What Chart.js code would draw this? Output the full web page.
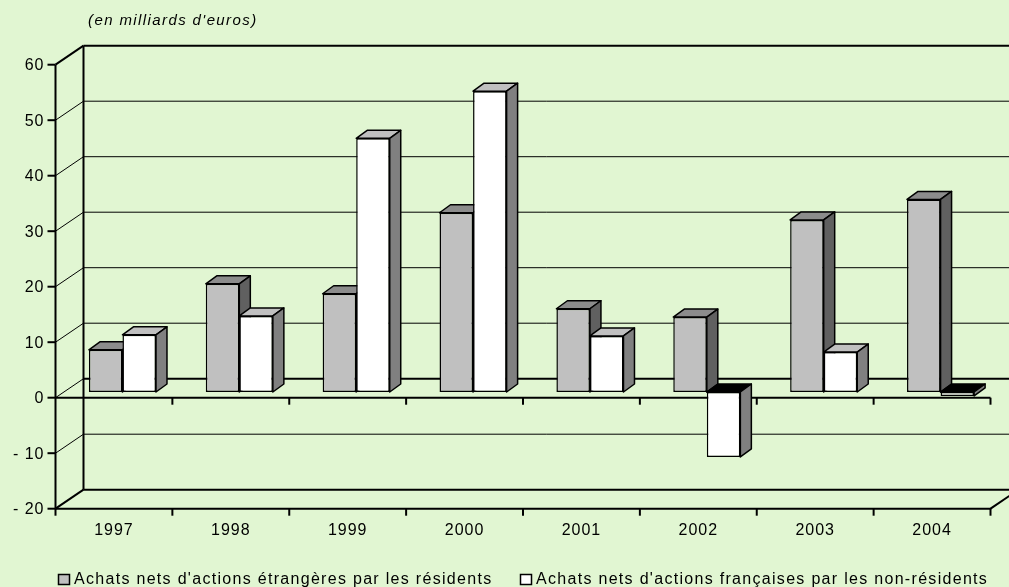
<!DOCTYPE html>
<html lang="fr">

<head>
  <meta charset="UTF-8">
  <title>Achats nets d'actions</title>
  <script src="https://cdn.jsdelivr.net/npm/chart.js"></script>
  <style>
    body {
      margin: 0;
      background: #E1F6D2;
      overflow: hidden;
    }
  </style>
</head>

<body>
  <canvas id="grafico" width="1009" height="587"></canvas>

  <script>
    // donnees (en milliards d'euros)
    const annees = ['1997', '1998', '1999', '2000', '2001', '2002', '2003', '2004']
    const achatsResidents = [7.6, 19.5, 17.7, 32.3, 15.0, 13.5, 31.0, 34.7]
    const achatsNonResidents = [10.3, 13.7, 45.7, 54.2, 10.1, -11.7, 7.2, -0.7]
    const ticksY = [60, 50, 40, 30, 20, 10, 0, -10, -20]
    const nomsSeries = [
      "Achats nets d'actions étrangères par les résidents",
      "Achats nets d'actions françaises par les non-résidents"
    ]

    const couleursFace = ['#C0C0C0', '#FFFFFF']
    const couleursDessus = ['#8C8C8C', '#C0C0C0']
    const couleursCote = ['#606060', '#808080']

    // decalages de profondeur par rapport au plan des barres
    const AVANT = [-8.5, 5.7]
    const FOND = [19.5, -13.3]
    const PROF = [11, -8]
    const POLICE = '"Liberation Sans", Arial, sans-serif'

    function ligne(ctx, pts, lw) {
      ctx.beginPath()
      ctx.moveTo(pts[0][0], pts[0][1])
      for (let k = 1; k < pts.length; k++) ctx.lineTo(pts[k][0], pts[k][1])
      ctx.lineWidth = lw
      ctx.strokeStyle = '#000'
      ctx.stroke()
    }

    function poly(ctx, pts, fond) {
      ctx.beginPath()
      ctx.moveTo(pts[0][0], pts[0][1])
      for (let k = 1; k < pts.length; k++) ctx.lineTo(pts[k][0], pts[k][1])
      ctx.closePath()
      ctx.fillStyle = fond
      ctx.fill()
      ctx.lineWidth = 1.5
      ctx.strokeStyle = '#000'
      ctx.lineJoin = 'round'
      ctx.stroke()
    }

    const effet3d = {
      id: 'effet3d',
      beforeDraw(chart) {
        const ctx = chart.ctx
        ctx.save()
        ctx.fillStyle = '#E1F6D2'
        ctx.fillRect(0, 0, chart.width, chart.height)
        ctx.restore()
      },
      beforeDatasetsDraw(chart) {
        const ctx = chart.ctx
        const ca = chart.chartArea
        const sy = chart.scales.y
        const largeurCat = (ca.right - ca.left) / annees.length
        const xa = ca.left + AVANT[0]
        const xf = ca.left + FOND[0]
        ctx.save()

        // murs : grille du fond et diagonales du mur gauche
        ticksY.forEach(function (v) {
          const y = sy.getPixelForValue(v)
          const epais = (v == 60 || v == -20 || v == 0) ? 2 : 1
          ligne(ctx, [[xf, y + FOND[1]], [chart.width + 5, y + FOND[1]]], epais)
          ligne(ctx, [[xa, y + AVANT[1]], [xf, y + FOND[1]]], (v == 60 || v == -20) ? 2 : 1)
          ligne(ctx, [[xa - 8, y + AVANT[1]], [xa, y + AVANT[1]]], 2)

          ctx.fillStyle = '#000'
          ctx.font = '16px ' + POLICE
          ctx.letterSpacing = '1px'
          ctx.textAlign = 'right'
          ctx.textBaseline = 'middle'
          let texte = v < 0 ? '- ' + Math.abs(v) : String(v)
          ctx.fillText(texte, xa - 11, y + AVANT[1] + 1)
        })

        const yHaut = sy.getPixelForValue(60)
        const yBas = sy.getPixelForValue(-20)
        const yZero = sy.getPixelForValue(0)
        ligne(ctx, [[xf, yHaut + FOND[1]], [xf, yBas + FOND[1]]], 2)
        ligne(ctx, [[xa, yHaut + AVANT[1]], [xa, yBas + AVANT[1]]], 2)
        ligne(ctx, [[xa, yBas + AVANT[1]], [ca.right + AVANT[0], yBas + AVANT[1]], [ca.right + FOND[0], yBas + FOND[1]]], 2)
        ligne(ctx, [[xa, yZero + AVANT[1]], [ca.right + AVANT[0], yZero + AVANT[1]]], 2)

        // graduations des categories + libelles
        for (let i = 0; i <= annees.length; i++) {
          const x = xa + i * largeurCat
          ligne(ctx, [[x, yBas + AVANT[1]], [x, yBas + AVANT[1] + 7]], 2)
          if (i > 0) ligne(ctx, [[x, yZero + AVANT[1]], [x, yZero + AVANT[1] + 7]], 2)
          if (i < annees.length) {
            ctx.fillStyle = '#000'
            ctx.font = '16px ' + POLICE
            ctx.letterSpacing = '1px'
            ctx.textAlign = 'center'
            ctx.textBaseline = 'middle'
            ctx.fillText(annees[i], x + largeurCat / 2, 531)
          }
        }

        // dessus et cotes des barres
        const valeurs = [achatsResidents, achatsNonResidents]
        for (let i = 0; i < annees.length; i++) {
          for (let d = 0; d < 2; d++) {
            const el = chart.getDatasetMeta(d).data[i]
            const p = el.getProps(['x', 'y', 'base', 'width'], true)
            const g = p.x - p.width / 2
            const dr = p.x + p.width / 2
            const haut = Math.min(p.y, p.base)
            const bas = Math.max(p.y, p.base)
            const dessus = valeurs[d][i] < 0 ? '#000' : couleursDessus[d]
            poly(ctx, [[g, haut], [g + PROF[0], haut + PROF[1]], [dr + PROF[0], haut + PROF[1]], [dr, haut]], dessus)
            poly(ctx, [[dr, haut], [dr + PROF[0], haut + PROF[1]], [dr + PROF[0], bas + PROF[1]], [dr, bas]], couleursCote[d])
          }
        }
        ctx.restore()
      },
      afterDraw(chart) {
        const ctx = chart.ctx
        ctx.save()
        ctx.fillStyle = '#000'
        ctx.textBaseline = 'middle'
        ctx.textAlign = 'left'

        ctx.font = 'italic 15px ' + POLICE
        ctx.letterSpacing = '1.4px'
        ctx.fillText("(en milliards d'euros)", 88, 21)

        // legende
        const posLegende = [58, 520]
        ctx.font = '16px ' + POLICE
        ctx.letterSpacing = '1.3px'
        for (let d = 0; d < 2; d++) {
          ctx.fillStyle = couleursFace[d]
          ctx.fillRect(posLegende[d] + 0.5, 574.5, 11, 10)
          ctx.lineWidth = 1.5
          ctx.strokeStyle = '#000'
          ctx.strokeRect(posLegende[d] + 0.5, 574.5, 11, 10)
          ctx.fillStyle = '#000'
          ctx.fillText(nomsSeries[d], posLegende[d] + 16, 580)
        }
        ctx.restore()
      }
    }

    new Chart(document.getElementById('grafico'), {
      type: 'bar',
      data: {
        labels: annees,
        datasets: [{
          label: nomsSeries[0],
          data: achatsResidents,
          backgroundColor: couleursFace[0],
          borderColor: '#000',
          borderWidth: 1.5,
          borderSkipped: false,
          categoryPercentage: 0.574,
          barPercentage: 1
        }, {
          label: nomsSeries[1],
          data: achatsNonResidents,
          backgroundColor: couleursFace[1],
          borderColor: '#000',
          borderWidth: 1.5,
          borderSkipped: false,
          categoryPercentage: 0.574,
          barPercentage: 1
        }]
      },
      options: {
        responsive: false,
        animation: false,
        layout: {
          padding: { left: 64, right: 10, top: 59, bottom: 84 }
        },
        scales: {
          x: { display: false },
          y: { display: false, min: -20, max: 60 }
        },
        plugins: {
          legend: { display: false },
          tooltip: { enabled: false }
        }
      },
      plugins: [effet3d]
    })
  </script>
</body>

</html>
